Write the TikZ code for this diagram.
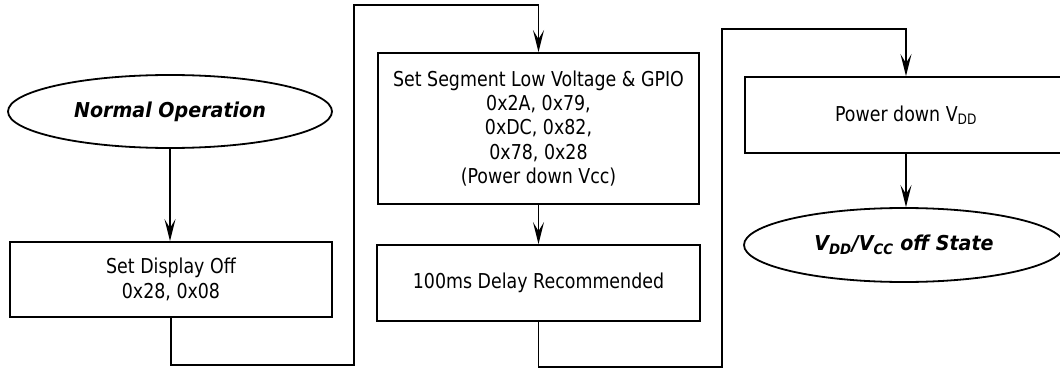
\documentclass[tikz,border=0pt]{standalone}
\usepackage{fontspec}
\setmainfont[FakeStretch=0.85]{DejaVu Sans}
\newfontfamily\termfont[FakeStretch=0.93]{DejaVu Sans}
\usetikzlibrary{arrows.meta,shapes.geometric}
\begin{document}
\begin{tikzpicture}[x=1pt,y=-1pt,
  >={Stealth[length=22pt,width=11pt,inset=9pt]},
  txt/.style={font=\fontsize{20.5}{24.3}\selectfont},
  proc/.style={draw,line width=1.8pt,rectangle,align=center,inner sep=0pt,txt},
  term/.style={draw,line width=1.8pt,ellipse,inner sep=0pt,align=center,font=\termfont\fontsize{20.5}{24.3}\selectfont\bfseries\itshape},
  conn/.style={line width=1.8pt,->}]
\useasboundingbox (0,0) rectangle (1060,369);
\node[term,minimum width=324,minimum height=73] (e1) at (170,111.5) {Normal Operation};
\node[proc,minimum width=322,minimum height=75] (b1) at (171,279.5) {Set Display Off\\0x28, 0x08};
\node[proc,minimum width=321,minimum height=151] (b2) at (538.5,128.5) {Set Segment Low Voltage \& GPIO\\0x2A, 0x79,\\0xDC, 0x82,\\0x78, 0x28\\(Power down Vcc)};
\node[proc,minimum width=323,minimum height=76] (b3) at (538.5,283) {100ms Delay Recommended};
\node[proc,minimum width=322,minimum height=76] (b4) at (906,115) {Power down V\textsubscript{DD}};
\node[term,minimum width=320,minimum height=74] (e2) at (904,245) {V\textsubscript{DD}/V\textsubscript{CC} off State};
\coordinate (k1) at (354,365);
\coordinate (k2) at (354,5);
\coordinate (k3) at (722,367);
\coordinate (k4) at (722,29);
\draw[conn] (e1.south) -- (e1.south |- b1.north);
\draw[conn] (b1.south) |- (k1) -- (k2) -| (b2.north);
\draw[conn] (b2.south) -- (b3.north);
\draw[conn] (b3.south) |- (k3) -- (k4) -| (b4.north);
\draw[conn] (b4.south) -- (b4.south |- e2.north);
\end{tikzpicture}
\end{document}
